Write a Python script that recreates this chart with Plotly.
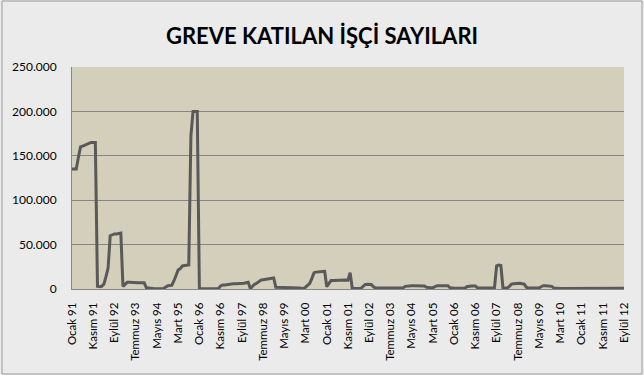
import plotly.graph_objects as go

# Monthly values, Ocak 1991 - Eylül 2012
months_tr = ["Ocak", "Şubat", "Mart", "Nisan", "Mayıs", "Haziran",
             "Temmuz", "Ağustos", "Eylül", "Ekim", "Kasım", "Aralık"]

y1991 = [135000, 135000, 135000, 148000, 160000, 161000, 162000, 163000, 164000, 165000, 165000, 165000]
y1992 = [3000, 2500, 3000, 5500, 14000, 23500, 60000, 61000, 62000, 62000, 62500, 63000]
y1993 = [3000, 5000, 7500, 7500, 7200, 7200, 7000, 7000, 7000, 7000, 7000, 1500]
y1994 = [1000, 500, 300, 300, 300, 300, 400, 600, 2000, 3500, 4000, 4200]
y1995 = [9000, 16000, 21500, 23000, 26000, 26500, 27000, 27000, 172000, 200000, 200000, 200000]
y1996 = [300, 300, 300, 300, 300, 300, 300, 300, 300, 500, 3500, 4500]
y1997 = [4500, 5000, 5200, 5500, 5800, 6000, 6000, 6200, 6500, 6500, 7000, 7500]
y1998 = [500, 3000, 5300, 6500, 8500, 10000, 10500, 11000, 11500, 12000, 12000, 12400]
y1999 = [2000, 2000, 1500, 1800, 2000, 2000, 2000, 2000, 2000, 2000, 1800, 1200]
y2000 = [800, 500, 2000, 4500, 6400, 12000, 18400, 19000, 19500, 19500, 19800, 20000]
y2001 = [2500, 6000, 9500, 9500, 9700, 10000, 10000, 10000, 10000, 10200, 10000, 18400]
y2002 = [800, 500, 500, 500, 500, 2500, 5000, 5300, 5300, 5000, 2500, 1000]
y2003 = [1000, 900, 900, 1000, 1000, 1000, 1000, 1000, 1200, 1200, 1500, 1500]
y2004 = [1500, 3000, 3500, 3700, 3700, 3700, 3700, 3700, 3700, 3700, 3500, 2000]
y2005 = [1500, 1500, 1500, 3000, 3700, 3700, 3700, 3700, 3700, 3700, 1500, 800]
y2006 = [800, 800, 800, 800, 800, 800, 2500, 3400, 3400, 3400, 3400, 1200]
y2007 = [1000, 1000, 1000, 1000, 1000, 1000, 1000, 1500, 26000, 27000, 26500, 1000]
y2008 = [1000, 1000, 3000, 5500, 6000, 6400, 6400, 6400, 6000, 5500, 2000, 1000]
y2009 = [1000, 1000, 1000, 1000, 1200, 2500, 3700, 3700, 3700, 3700, 3000, 1000]
y2010 = [600, 500, 500, 500, 500, 500, 500, 500, 500, 500, 500, 600]
y2011 = [800, 800, 800, 800, 800, 800, 800, 800, 800, 800, 800, 800]
y2012 = [800, 800, 800, 800, 800, 800, 800, 800, 800]

yearly = [y1991, y1992, y1993, y1994, y1995, y1996, y1997, y1998, y1999, y2000, y2001,
          y2002, y2003, y2004, y2005, y2006, y2007, y2008, y2009, y2010, y2011, y2012]

categories = []
values = []
for i, yv in enumerate(yearly):
    yr = (1991 + i) % 100
    for m, v in enumerate(yv):
        categories.append(f"{months_tr[m]} {yr:02d}")
        values.append(v)

tick_vals = categories[::10]
tick_text = tick_vals

fig = go.Figure()
fig.add_trace(go.Scatter(
    x=categories, y=values, mode="lines",
    line=dict(color="#595959", width=3),
    showlegend=False, hoverinfo="x+y",
))

fig.update_layout(
    width=644, height=375,
    margin=dict(l=72, r=20, t=67, b=86),
    paper_bgcolor="#ebebeb",
    plot_bgcolor="#d3cfba",
    separators=",.",
    font=dict(family="Lato, 'Open Sans', sans-serif", color="#000000", size=12),
    title=dict(text="<b>GREVE KATILAN İŞÇİ SAYILARI</b>",
               x=0.5, xanchor="center", y=1 - 36 / 375, yanchor="middle",
               font=dict(family="Lato, 'Open Sans', sans-serif", size=22, color="#000000")),
    shapes=[dict(type="rect", xref="paper", yref="paper",
                 x0=-70 / 552, x1=1 + 18 / 552, y0=-85 / 222, y1=1 + 66 / 222,
                 line=dict(color="#9a9a9a", width=1), layer="below")],
)

fig.update_xaxes(
    type="category",
    range=[0, len(categories) - 1],
    tickmode="array", tickvals=tick_vals, ticktext=tick_text,
    tickangle=-90,
    tickfont=dict(size=11.5),
    showgrid=False,
    showline=True, linecolor="#868686", linewidth=1,
    ticks="", ticklabelstandoff=8,
)

fig.update_yaxes(
    range=[0, 250000], dtick=50000, tickformat=",.0f",
    showgrid=True, gridcolor="#858585", gridwidth=1,
    showline=True, linecolor="#868686", linewidth=1,
    zeroline=False,
    ticks="", ticklabelstandoff=12,
    tickfont=dict(size=12),
)

fig.write_html("out.html",
               config={"displayModeBar": False},
               post_script="document.body.style.margin='0';document.body.style.padding='0';")
